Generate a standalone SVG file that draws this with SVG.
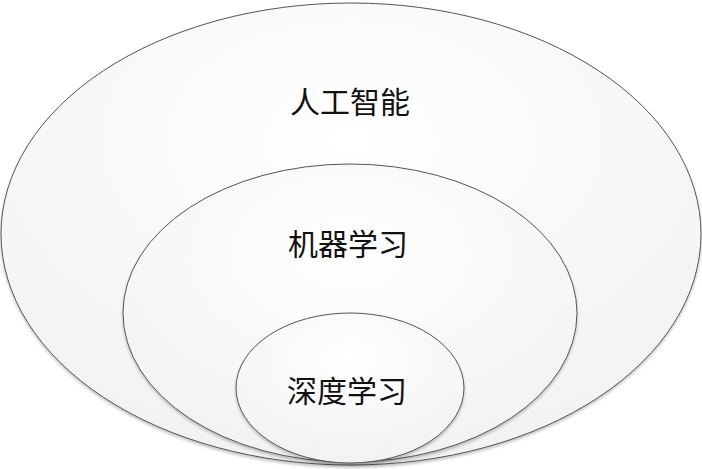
<svg xmlns="http://www.w3.org/2000/svg" width="702" height="469" viewBox="0 0 702 469">
<defs>
<radialGradient id="g" cx="0.5" cy="0.3" r="0.75">
<stop offset="0" stop-color="#ffffff"/>
<stop offset="1" stop-color="#f1f1f1"/>
</radialGradient>
<filter id="sh" x="-5%" y="-5%" width="110%" height="112%">
<feGaussianBlur in="SourceAlpha" stdDeviation="1.5"/>
<feOffset dx="0" dy="2" result="b"/>
<feComponentTransfer><feFuncA type="linear" slope="0.25"/></feComponentTransfer>
<feMerge><feMergeNode/><feMergeNode in="SourceGraphic"/></feMerge>
</filter>
</defs>
<style>
.e{fill:url(#g);stroke:#555;stroke-width:1;filter:url(#sh)}
.t{font-family:"Noto Sans CJK SC","Noto Sans CJK JP",sans-serif;font-size:30px;fill:#111;text-anchor:middle}
</style>
<rect width="702" height="469" fill="#ffffff"/>
<g id="ai">
<ellipse class="e" cx="351" cy="234" rx="350" ry="231"/>
<text class="t" x="350" y="113">人工智能</text>
</g>
<g id="ml">
<ellipse class="e" cx="350" cy="313" rx="227" ry="149"/>
<text class="t" x="348" y="255">机器学习</text>
</g>
<g id="dl">
<ellipse class="e" cx="350" cy="388" rx="114" ry="75"/>
<text class="t" x="347" y="402">深度学习</text>
</g>
<g id="connectors"/>
</svg>
